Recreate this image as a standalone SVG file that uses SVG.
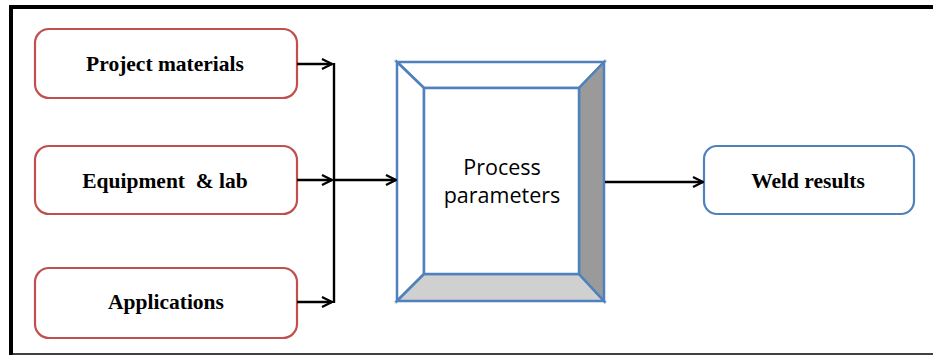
<svg xmlns="http://www.w3.org/2000/svg" width="933" height="356" viewBox="0 0 933 356">
  <defs>
    <marker id="arrow" viewBox="0 0 12 12" refX="11" refY="6" markerWidth="12" markerHeight="12" markerUnits="userSpaceOnUse" orient="auto">
      <path d="M1,1 L11,6 L1,11" fill="none" stroke="#000" stroke-width="2.2" stroke-linejoin="miter"/>
    </marker>
  </defs>
  <style>
    .input { fill: #fff; stroke: #c0504d; stroke-width: 2.2; }
    .output { fill: #fff; stroke: #4f81bd; stroke-width: 2.2; }
    .label { font-family: "Liberation Serif", "Times New Roman", serif; font-weight: bold; font-size: 21.5px; fill: #000; text-anchor: middle; }
    .frame { stroke: #4f81bd; stroke-width: 2.5; stroke-linejoin: miter; }
    .sans { font-family: "Open Sans", "Noto Sans", sans-serif; font-size: 21.5px; fill: #000; text-anchor: middle; }
    .wire { fill: none; stroke: #000; stroke-width: 2.4; }
  </style>

  <!-- page frame -->
  <rect x="0" y="0" width="933" height="356" fill="#fff"/>
  <line x1="9" y1="7" x2="933" y2="7" stroke="#000" stroke-width="4"/>
  <line x1="11" y1="5" x2="11" y2="355" stroke="#000" stroke-width="4"/>
  <line x1="9" y1="354" x2="933" y2="354" stroke="#000" stroke-width="1.5"/>

  <g id="project-materials">
    <rect class="input" x="35" y="29" width="262" height="69" rx="14"/>
    <text class="label" x="165" y="71">Project materials</text>
  </g>

  <g id="equipment-lab">
    <rect class="input" x="35" y="146" width="262" height="68" rx="14"/>
    <text class="label" x="165" y="188" xml:space="preserve">Equipment  &amp; lab</text>
  </g>

  <g id="applications">
    <rect class="input" x="35" y="268" width="262" height="70" rx="14"/>
    <text class="label" x="166" y="309">Applications</text>
  </g>

  <g id="process-parameters">
    <!-- bevelled frame: top and left faces white, bottom light, right dark -->
    <polygon class="frame" points="397,62 604,62 579,88 424,88" fill="#fff"/>
    <polygon class="frame" points="397,62 424,88 424,274 397,301" fill="#fff"/>
    <polygon class="frame" points="397,301 424,274 579,274 604,301" fill="#d0d0d0"/>
    <polygon class="frame" points="604,62 604,301 579,274 579,88" fill="#9a9a9a"/>
    <rect class="frame" x="424" y="88" width="155" height="186" fill="#fff"/>
    <text class="sans" x="502" y="175">Process</text>
    <text class="sans" x="502" y="203">parameters</text>
  </g>

  <g id="weld-results">
    <rect class="output" x="704" y="146" width="210" height="68" rx="13"/>
    <text class="label" x="808" y="188">Weld results</text>
  </g>

  <g id="connectors">
    <line class="wire" x1="297" y1="64" x2="332" y2="64" marker-end="url(#arrow)"/>
    <line class="wire" x1="297" y1="180" x2="332" y2="180" marker-end="url(#arrow)"/>
    <line class="wire" x1="297" y1="302" x2="332" y2="302" marker-end="url(#arrow)"/>
    <line class="wire" x1="334" y1="63" x2="334" y2="303"/>
    <line class="wire" x1="334" y1="180" x2="396" y2="180" marker-end="url(#arrow)"/>
    <line class="wire" x1="605" y1="182" x2="703" y2="182" marker-end="url(#arrow)"/>
  </g>
</svg>
